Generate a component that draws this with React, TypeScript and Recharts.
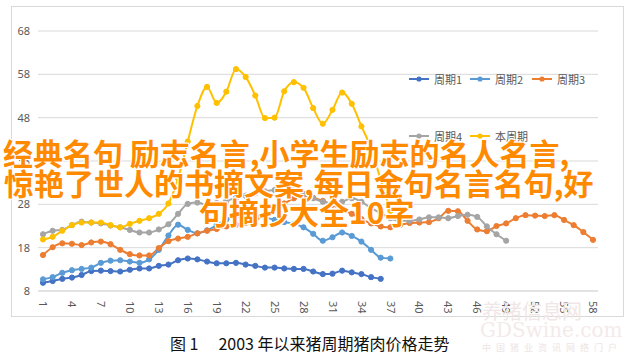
import { LineChart, Line, XAxis, YAxis, CartesianGrid } from 'recharts';

// week index of each cycle (Excel category axis)
const weeks = [
  1, 2, 3, 4, 5, 6, 7, 8, 9, 10, 11, 12, 13, 14, 15, 16, 17, 18, 19, 20,
  21, 22, 23, 24, 25, 26, 27, 28, 29, 30, 31, 32, 33, 34, 35, 36, 37, 38, 39, 40,
  41, 42, 43, 44, 45, 46, 47, 48, 49, 50, 51, 52, 53, 54, 55, 56, 57, 58,
];

const cycle1 = [
  9.9, 10.3, 10.8, 11.1, 11.7, 12.6, 12.7, 12.6, 12.5, 12.9, 13.2, 13.2, 13.8, 14.1, 15.1, 15.5, 15.3, 14.8,
  14.4, 14.4, 14.5, 14.1, 13.8, 13.4, 13.4, 13.2, 13.1, 13.1, 12.5, 11.9, 12.0, 12.7, 12.3, 11.9, 11.2, 10.8,
];

const cycle2 = [
  10.7, 11.2, 12.2, 12.8, 13.1, 13.4, 14.5, 15.0, 15.1, 14.8, 14.5, 15.3, 17.5, 20.8, 23.3, 22.1, 21.3, 22.0,
  23.2, 24.5, 25.3, 25.6, 25.5, 25.0, 24.4, 23.9, 23.5, 22.7, 21.2, 19.6, 20.4, 21.5, 20.7, 19.4, 17.5, 15.7, 15.5,
];

const cycle3 = [
  16.3, 18.1, 19.0, 18.9, 18.6, 19.2, 19.4, 18.8, 17.5, 16.5, 16.2, 16.2, 17.9, 19.5, 20.1, 20.5, 21.3, 21.9,
  22.3, 22.9, 23.3, 23.7, 24.4, 25.5, 26.8, 28.2, 29.4, 30.0, 29.5, 28.8, 27.9, 26.7, 25.8, 24.6, 23.6, 22.9,
  22.7, 23.2, 23.7, 23.8, 23.9, 24.8, 26.5, 26.4, 24.2, 22.2, 21.8, 23.0, 23.6, 24.8, 25.5, 25.4, 25.3, 25.5,
  24.4, 23.2, 21.6, 19.8,
];

const cycle4 = [
  21.1, 21.9, 22.1, 23.2, 24.0, 23.8, 23.6, 23.1, 22.7, 22.1, 21.5, 21.5, 22.2, 23.4, 25.8, 28.1, 28.4, 27.9,
  28.3, 28.8, 29.5, 30.0, 30.5, 31.0, 31.3, 31.7, 31.2, 30.4, 29.4, 28.6, 28.2, 28.6, 29.4, 28.6, 27.1, 26.0,
  24.8, 24.2, 24.2, 24.5, 25.0, 25.0, 24.8, 25.3, 25.6, 25.1, 22.9, 21.1, 19.6,
];

const currentCycle = [
  19.9, 20.5, 21.9, 23.2, 23.8, 23.8, 23.8, 23.2, 22.7, 23.5, 24.2, 24.8, 25.8, 28.2, 34.0, 42.5, 50.7, 55.1,
  51.4, 54.0, 59.2, 57.4, 53.1, 47.9, 48.0, 54.1, 56.2, 54.9, 50.2, 46.6, 49.8, 53.8, 51.2, 46.0, 41.0, 33.6, 26.5,
];

const yTicks = [8, 18, 28, 38, 48, 58, 68];

const SERIES = [
  { key: 'c1', name: '周期1', color: '#4472C4', values: cycle1 },
  { key: 'c2', name: '周期2', color: '#5B9BD5', values: cycle2 },
  { key: 'c3', name: '周期3', color: '#ED7D31', values: cycle3 },
  { key: 'c4', name: '周期4', color: '#A5A5A5', values: cycle4 },
  { key: 'cur', name: '本周期', color: '#FFC000', values: currentCycle },
];

const chartData = weeks.map((w, i) => {
  const row: Record<string, string | number | null> = { week: String(w) };
  SERIES.forEach((s) => {
    row[s.key] = s.values[i] ?? null;
  });
  return row;
});

const AXIS_FONT = '"Noto Sans", "DejaVu Sans", sans-serif';
const CJK_FONT = '"Noto Sans CJK SC", "Noto Sans", sans-serif';

function WeekTick(props: any) {
  const { x, y, payload } = props;
  return (
    <text
      x={0}
      y={0}
      dy="0.35em"
      transform={`translate(${x},${y}) rotate(90)`}
      textAnchor="start"
      fill="#595959"
      fontSize={11}
      fontFamily={AXIS_FONT}
    >
      {payload.value}
    </text>
  );
}

function LegendItem({ name, color, width }: { name: string; color: string; width: number }) {
  return (
    <div style={{ display: 'flex', alignItems: 'center', width }}>
      <svg width={22} height={8} style={{ marginRight: 4 }}>
        <line x1={1} y1={4} x2={21} y2={4} stroke={color} strokeWidth={2} />
        <circle cx={11} cy={4} r={2.6} fill={color} />
      </svg>
      <span style={{ fontSize: 11, color: '#595959', fontFamily: CJK_FONT, whiteSpace: 'nowrap' }}>{name}</span>
    </div>
  );
}

const overlayStyle: React.CSSProperties = {
  position: 'absolute',
  fontFamily: CJK_FONT,
  fontWeight: 700,
  fontSize: 30,
  lineHeight: '30px',
  color: '#FF8A00',
  whiteSpace: 'nowrap',
  textShadow: '1px 1px 0 #fff, -1px -1px 0 #fff, 1px -1px 0 #fff, -1px 1px 0 #fff, 0 0 2px #fff',
  zIndex: 5,
};

export default function App() {
  return (
    <div style={{ position: 'absolute', left: 0, top: 0, width: 634, height: 358, background: '#fff', overflow: 'hidden' }}>
      <div
        style={{
          position: 'absolute',
          left: 11,
          top: 6,
          width: 611,
          height: 309,
          border: '1px solid #d9d9d9',
          background: '#fff',
        }}
      >
        <LineChart width={611} height={309} data={chartData} margin={{ top: 24, right: 25, left: 0, bottom: 0 }}>
          <CartesianGrid horizontal vertical={false} stroke="#d9d9d9" />
          <XAxis
            dataKey="week"
            interval={2}
            padding={{ left: 5, right: 5 }}
            height={25}
            axisLine={{ stroke: '#d9d9d9' }}
            tickLine={false}
            tickMargin={4}
            tick={<WeekTick />}
          />
          <YAxis
            type="number"
            domain={[8, 68]}
            ticks={yTicks}
            width={26}
            axisLine={false}
            tickLine={false}
            tick={{ fill: '#595959', fontSize: 11, fontFamily: AXIS_FONT }}
          />
          {SERIES.map((s) => (
            <Line
              key={s.key}
              type="monotone"
              dataKey={s.key}
              name={s.name}
              stroke={s.color}
              strokeWidth={2}
              dot={{ r: 2.6, fill: s.color, stroke: s.color, strokeWidth: 1 }}
              activeDot={false}
              isAnimationActive={false}
            />
          ))}
        </LineChart>

        {/* legend, two rows like the Excel original */}
        <div style={{ position: 'absolute', left: 396, top: 64, display: 'flex' }}>
          <LegendItem name="周期1" color="#4472C4" width={61} />
          <LegendItem name="周期2" color="#5B9BD5" width={62} />
          <LegendItem name="周期3" color="#ED7D31" width={60} />
        </div>
        <div style={{ position: 'absolute', left: 396, top: 121, display: 'flex' }}>
          <LegendItem name="周期4" color="#A5A5A5" width={61} />
          <LegendItem name="本周期" color="#FFC000" width={70} />
        </div>
      </div>

      {/* caption */}
      <div
        style={{
          position: 'absolute',
          left: 170,
          top: 333,
          fontFamily: CJK_FONT,
          fontSize: 16,
          lineHeight: '20px',
          color: '#111',
          whiteSpace: 'nowrap',
        }}
      >
        <span>图 1</span>
        <span style={{ marginLeft: 20 }}>2003 年以来猪周期猪肉价格走势</span>
      </div>

      {/* faint watermark */}
      <div style={{ position: 'absolute', left: 482, top: 296, fontFamily: CJK_FONT, fontSize: 20, color: '#f1e6e6', whiteSpace: 'nowrap' }}>
        养猪信息网
      </div>
      <div style={{ position: 'absolute', left: 480, top: 318, fontFamily: '"DejaVu Serif", serif', fontSize: 20, color: '#f4eaea', whiteSpace: 'nowrap' }}>
        GDSwine.com
      </div>
      <div style={{ position: 'absolute', left: 482, top: 341, fontFamily: CJK_FONT, fontSize: 9, letterSpacing: 5, color: '#eee4e4', whiteSpace: 'nowrap' }}>
        中国猪业资讯网络门户
      </div>

      {/* overlaid title text */}
      <div style={{ ...overlayStyle, left: 3, top: 137 }}>经典名句 励志名言,小学生励志的名人名言,</div>
      <div style={{ ...overlayStyle, left: 4, top: 167 }}>惊艳了世人的书摘文案,每日金句名言名句,好</div>
      <div style={{ ...overlayStyle, left: 199, top: 196 }}>句摘抄大全10字</div>
    </div>
  );
}
